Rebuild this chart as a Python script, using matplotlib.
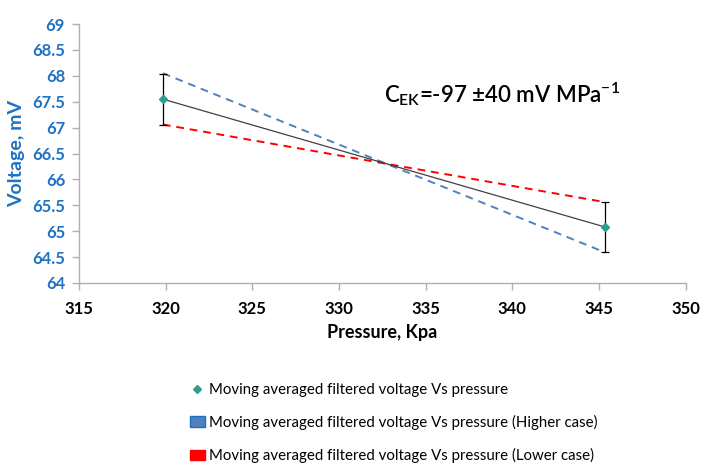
import matplotlib
matplotlib.use('Agg')
import matplotlib.pyplot as plt
from matplotlib.lines import Line2D
from matplotlib.patches import Patch

plt.rcParams['font.family'] = ['Lato', 'DejaVu Sans']
plt.rcParams['mathtext.default'] = 'regular'

# Measured points (mean of moving-averaged filtered voltage)
pressure = [319.84, 345.36]
voltage = [67.55, 65.08]
voltage_err = [0.49, 0.49]
# Extreme slopes through the error bar ends
voltage_high = [68.05, 64.59]
voltage_low = [67.06, 65.56]

x_ticks = [315, 320, 325, 330, 335, 340, 345, 350]
y_ticks = [64, 64.5, 65, 65.5, 66, 66.5, 67, 67.5, 68, 68.5, 69]

BLUE_TXT = '#1f72c4'
GRID_GRAY = '#b0b0b0'

fig = plt.figure(figsize=(7.01, 4.63), dpi=100)
ax = fig.add_axes([0.1127, 0.3888, 0.8653, 0.5593])

ax.plot(pressure, voltage_high, color='#4f81bd', linestyle=(0, (4, 3)),
        linewidth=1.4)
ax.plot(pressure, voltage_low, color='#ff0000', linestyle=(0, (4, 3)),
        linewidth=1.4)
ax.plot(pressure, voltage, color='#404040', linewidth=0.9)
ax.errorbar(pressure, voltage, yerr=voltage_err, fmt='none',
            ecolor='black', elinewidth=0.9, capsize=3, capthick=0.9)
ax.plot(pressure, voltage, linestyle='none', marker='D', markersize=4,
        color='#2f9e8c')

ax.set_xlim(315, 350)
ax.set_ylim(64, 69)
ax.set_xticks(x_ticks)
ax.set_yticks(y_ticks)
ax.set_yticklabels([f'{v:g}' for v in y_ticks])

for side in ('top', 'right'):
    ax.spines[side].set_visible(False)
for side in ('left', 'bottom'):
    ax.spines[side].set_color(GRID_GRAY)
    ax.spines[side].set_linewidth(1.0)

ax.tick_params(axis='both', direction='out', length=5, width=1.0,
               color=GRID_GRAY, labelsize=12)
ax.tick_params(axis='x', pad=8)
ax.tick_params(axis='y', pad=5)
for lab in ax.get_xticklabels():
    lab.set_fontweight('bold')
for lab in ax.get_yticklabels():
    lab.set_fontweight('bold')
    lab.set_color(BLUE_TXT)

ax.set_xlabel('Pressure, Kpa', fontsize=13, fontweight='bold', labelpad=5)
ax.set_ylabel('Voltage, mV', fontsize=14, fontweight='bold',
              color=BLUE_TXT, labelpad=5)

ax.text(332.57, 67.49, r'C$_{EK}$=-97 ±40 mV MPa$^{-1}$', fontsize=16,
        fontweight='semibold', ha='left', va='baseline')

handles = [
    Line2D([], [], linestyle='none', marker='D', markersize=4,
           color='#2f9e8c'),
    Patch(facecolor='#4f81bd', edgecolor='#1f6fc0'),
    Patch(facecolor='#ff0000', edgecolor='#ff0000'),
]
labels = [
    'Moving averaged filtered voltage Vs pressure',
    'Moving averaged filtered voltage Vs pressure (Higher case)',
    'Moving averaged filtered voltage Vs pressure (Lower case)',
]
fig.legend(handles, labels, loc='upper left',
           bbox_to_anchor=(0.262, 0.186), bbox_transform=fig.transFigure,
           frameon=False, fontsize=10.8, labelspacing=1.2,
           handlelength=1.0, handletextpad=0.3, borderaxespad=0)

fig.savefig('out.png', dpi=100)
